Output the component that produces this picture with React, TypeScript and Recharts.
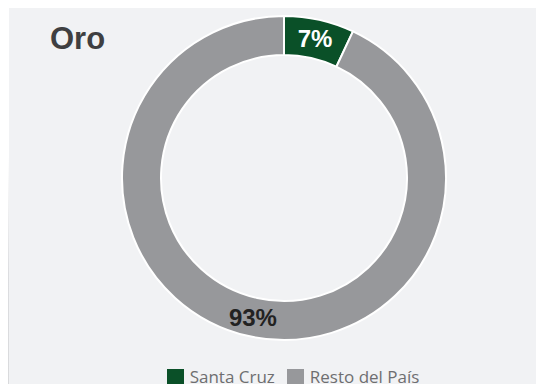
import React from "react";
import { PieChart, Pie, Cell, Legend } from "recharts";

const regions = ["Santa Cruz", "Resto del País"];
const shares = [7, 93];
const colors = ["#0a5028", "#97989b"];
const labelColors = ["#ffffff", "#222222"];

const data = regions.map((name, i) => ({ name, value: shares[i] }));

const RADIAN = Math.PI / 180;

function renderLabel(props: any) {
  const { cx, cy, midAngle, innerRadius, outerRadius, value, index } = props;
  const r = (innerRadius + outerRadius) / 2;
  const x = cx + r * Math.cos(-midAngle * RADIAN);
  const y = cy + r * Math.sin(-midAngle * RADIAN);
  return (
    <text
      x={x}
      y={y}
      fill={labelColors[index]}
      textAnchor="middle"
      dominantBaseline="central"
      fontFamily="'Liberation Sans', Arial, sans-serif"
      fontWeight="bold"
      fontSize={24}
    >
      {value}%
    </text>
  );
}

// legend drawn in series order (recharts 3 sorts by name otherwise)
function renderLegend() {
  return (
    <div style={{ display: "flex", justifyContent: "center", gap: 12, fontFamily: "'Open Sans', sans-serif", fontSize: 17, lineHeight: "20px", color: "#6e6e70", paddingLeft: 42 }}>
      {regions.map((name, i) => (
        <div key={name} style={{ display: "flex", alignItems: "center" }}>
          <span style={{ display: "inline-block", width: 17, height: 17, background: colors[i], marginRight: 6 }} />
          <span>{name}</span>
        </div>
      ))}
    </div>
  );
}

export default function App() {
  return (
    <div style={{ position: "relative", width: 544, height: 392, margin: -8, overflow: "hidden", background: "#ffffff" }}>
      <div style={{ position: "absolute", left: 0, top: 0, width: 9, height: 392, background: "linear-gradient(to bottom, #ffffff 0%, #ffffff 40%, #dcdde0 70%, #d9dadc 100%)" }} />
      <div style={{ position: "absolute", left: 0, top: 0, width: 544, height: 4, background: "linear-gradient(to right, #ffffff 0%, #ffffff 20%, #dcdde0 70%, #d9dadc 100%)" }} />
      <div style={{ position: "absolute", left: 9, top: 4, right: 0, bottom: 0, background: "#f1f2f4" }} />
      <div style={{ position: "absolute", left: 50, top: 21, fontFamily: "'Liberation Sans', Arial, sans-serif", fontWeight: "bold", fontSize: 31, color: "#3f3f41" }}>
        Oro
      </div>
      <div style={{ position: "absolute", left: 0, top: 0 }}>
        <PieChart width={544} height={392} margin={{ top: 0, right: 0, bottom: 0, left: 0 }}>
          <Pie
            data={data}
            dataKey="value"
            nameKey="name"
            cx={284}
            cy={178}
            innerRadius={123}
            outerRadius={162}
            startAngle={90}
            endAngle={-270}
            stroke="#ffffff"
            strokeWidth={2}
            label={renderLabel}
            labelLine={false}
            isAnimationActive={false}
          >
            {data.map((_, i) => (
              <Cell key={i} fill={colors[i]} />
            ))}
          </Pie>
          <Legend verticalAlign="bottom" content={renderLegend} wrapperStyle={{ bottom: 5 }} />
        </PieChart>
      </div>
    </div>
  );
}
